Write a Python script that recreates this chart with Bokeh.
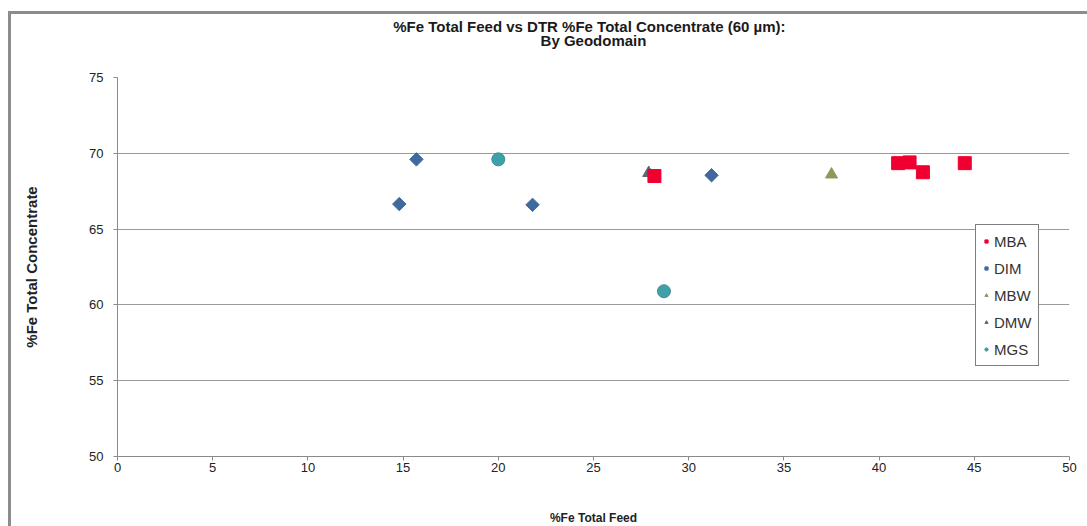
import math
from bokeh.plotting import figure
from bokeh.models import Legend, LegendItem, FixedTicker, Range1d, Title
from bokeh.embed import file_html
from bokeh.resources import INLINE

# ---- data ----
mba_x = [28.2, 41.0, 41.6, 42.3, 44.5]
mba_y = [68.5, 69.35, 69.4, 68.75, 69.35]
dim_x = [14.8, 15.7, 21.8, 31.2]
dim_y = [66.65, 69.6, 66.6, 68.55]
mbw_x = [37.5]
mbw_y = [68.6]
dmw_x = [27.9]
dmw_y = [68.7]
mgs_x = [20.0, 28.7]
mgs_y = [69.6, 60.9]
x_ticks = [0, 5, 10, 15, 20, 25, 30, 35, 40, 45, 50]
y_ticks = [50, 55, 60, 65, 70, 75]
title_lines = ["%Fe  Total Feed vs DTR %Fe  Total Concentrate (60 \u00b5m):", "By Geodomain"]

FONT = "Liberation Sans"

p = figure(width=1079, height=515, output_backend="svg", toolbar_location=None,
           x_range=Range1d(0, 50), y_range=Range1d(50, 75),
           min_border_left=106, min_border_right=21, min_border_top=63,
           min_border_bottom=73)
p.styles = {"border-top": "3px solid #8c8c8c", "border-left": "3px solid #8c8c8c",
            "margin-left": "8px", "margin-top": "11px", "box-sizing": "border-box"}

xax = p.below[0]
yax = p.left[0]

p.outline_line_color = None
p.background_fill_color = "white"
p.border_fill_color = "white"

p.xgrid.grid_line_color = None
p.ygrid.grid_line_color = "#9a9a9a"
p.ygrid.grid_line_width = 1

for ax in (xax, yax):
    ax.axis_line_color = "#8a8a8a"
    ax.major_tick_line_color = "#8a8a8a"
    ax.minor_tick_line_color = None
    ax.major_tick_in = 0
    ax.major_tick_out = 4
    ax.major_label_text_font = FONT
    ax.major_label_text_font_size = "13px"
    ax.major_label_text_color = "#222222"
    ax.axis_label_text_font = FONT
    ax.axis_label_text_font_style = "bold"
    ax.axis_label_text_color = "#222222"

xax.axis_label_text_font_size = "12px"
yax.axis_label_text_font_size = "15px"
xax.ticker = FixedTicker(ticks=x_ticks)
yax.ticker = FixedTicker(ticks=y_ticks)
xax.axis_label = "%Fe Total Feed"
yax.axis_label = "%Fe Total Concentrate"
xax.major_label_standoff = 2
yax.major_label_standoff = 10
xax.axis_label_standoff = 36
yax.axis_label_standoff = 46

p.title = None
# second title line keeps two trailing line breaks, which hold it clear of the plot area
t2 = Title(text=title_lines[1] + "\n\n", align="center", text_font=FONT, text_font_size="15px",
           text_font_style="bold", text_color="#1a1a1a", standoff=-10)
t1 = Title(text=title_lines[0], align="center", text_font=FONT, text_font_size="15px",
           text_font_style="bold", text_color="#1a1a1a", standoff=-1)
p.add_layout(t2, "above")
p.add_layout(t1, "above")

r_mgs = p.scatter(mgs_x, mgs_y, marker="circle", size=13, fill_color="#3fa0a8", line_color="#3a8f95")
r_dmw = p.scatter(dmw_x, dmw_y, marker="triangle", size=12, fill_color="#5a6878", line_color="#5a6878")
r_mbw = p.scatter(mbw_x, mbw_y, marker="triangle", size=12, fill_color="#8a9a5a", line_color="#8a9a5a")
r_dim = p.scatter(dim_x, dim_y, marker="square", angle=math.pi / 4, size=9.5,
                  fill_color="#3f6a9e", line_color="#3f6a9e")
r_mba = p.scatter(mba_x, mba_y, marker="square", size=13, fill_color="#f00030", line_color="#f00030")

legend = Legend(items=[
    LegendItem(label="MBA", renderers=[r_mba]),
    LegendItem(label="DIM", renderers=[r_dim]),
    LegendItem(label="MBW", renderers=[r_mbw]),
    LegendItem(label="DMW", renderers=[r_dmw]),
    LegendItem(label="MGS", renderers=[r_mgs]),
], location=(858, 90))
legend.border_line_color = "black"
legend.border_line_width = 1
legend.background_fill_alpha = 1
legend.label_text_font = FONT
legend.label_text_font_size = "15px"
legend.label_text_color = "#333333"
legend.glyph_width = 8
legend.glyph_height = 8
legend.label_standoff = 4
legend.label_height = 20
legend.label_width = 20
legend.spacing = 7
legend.padding = 6
legend.margin = 0
p.add_layout(legend, "center")

open("out.html", "w").write(file_html(p, INLINE))
